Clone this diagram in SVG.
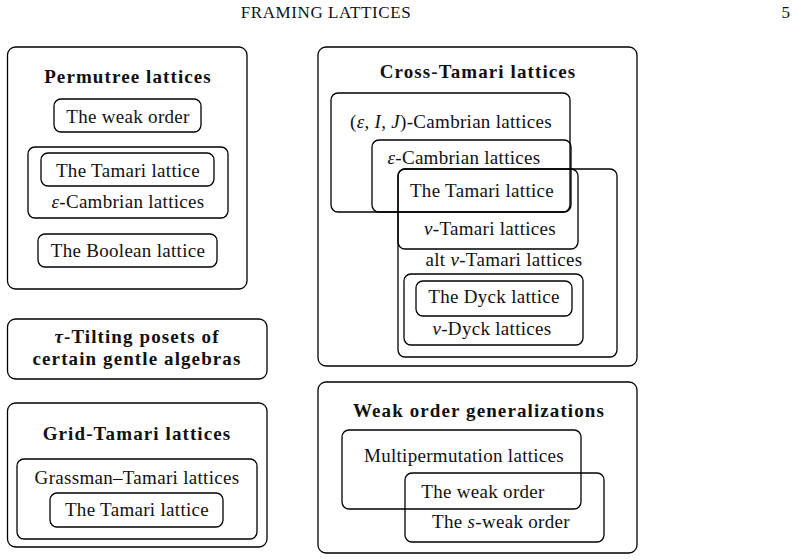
<svg xmlns="http://www.w3.org/2000/svg" width="799" height="560" viewBox="0 0 799 560">
<style>
  .box { fill: none; stroke: #000; stroke-width: 1.3; }
  text { font-family: "Liberation Serif", "Times New Roman", serif; font-size: 19px; fill: #111; text-anchor: middle; letter-spacing: 0.3px; }
  .b { font-weight: bold; letter-spacing: 1.1px; }
  .hd { font-size: 17px; letter-spacing: 0.6px; }
  .m { font-style: italic; }
</style>
<rect width="799" height="560" fill="#fff"/>
<g id="header">
  <text class="hd" x="326" y="18">FRAMING LATTICES</text>
  <text class="hd" x="786" y="18">5</text>
</g>

<g id="permutree">
  <rect class="box" x="7.5" y="47" width="239.5" height="242" rx="8"/>
  <text class="b" x="128" y="83">Permutree lattices</text>
</g>
<g id="perm-weak-order">
  <rect class="box" x="54" y="99" width="147" height="33" rx="7"/>
  <text x="128" y="123">The weak order</text>
</g>
<g id="perm-eps-cambrian">
  <rect class="box" x="28" y="147" width="200" height="71" rx="7"/>
  <text x="128" y="208"><tspan class="m">ε</tspan>-Cambrian lattices</text>
</g>
<g id="perm-tamari">
  <rect class="box" x="41" y="153" width="173" height="33" rx="7"/>
  <text x="128" y="177">The Tamari lattice</text>
</g>
<g id="perm-boolean">
  <rect class="box" x="38" y="234" width="179" height="33" rx="7"/>
  <text x="128" y="257">The Boolean lattice</text>
</g>

<g id="tau-tilting">
  <rect class="box" x="7.5" y="319" width="259.5" height="60" rx="8"/>
  <text class="b" x="137" y="343"><tspan class="m">τ</tspan>-Tilting posets of</text>
  <text class="b" x="137" y="365">certain gentle algebras</text>
</g>

<g id="grid-tamari">
  <rect class="box" x="7.5" y="403" width="259.5" height="144" rx="8"/>
  <text class="b" x="137" y="440">Grid-Tamari lattices</text>
</g>
<g id="grassman-tamari">
  <rect class="box" x="17" y="459" width="240" height="80" rx="7"/>
  <text x="137" y="484">Grassman–Tamari lattices</text>
</g>
<g id="grid-tamari-lattice">
  <rect class="box" x="50" y="493" width="173" height="34" rx="7"/>
  <text x="137" y="516">The Tamari lattice</text>
</g>

<g id="cross-tamari">
  <rect class="box" x="318" y="47" width="319" height="319" rx="8"/>
  <text class="b" x="478" y="78">Cross-Tamari lattices</text>
</g>
<g id="eij-cambrian">
  <rect class="box" x="331" y="93" width="239" height="119" rx="7"/>
  <text x="451" y="128">(<tspan class="m">ε</tspan>, <tspan class="m">I</tspan>, <tspan class="m">J</tspan>)-Cambrian lattices</text>
</g>
<g id="eps-cambrian">
  <rect class="box" x="372" y="140" width="199" height="72" rx="7"/>
  <text x="464" y="164"><tspan class="m">ε</tspan>-Cambrian lattices</text>
</g>
<g id="nu-tamari">
  <rect class="box" x="398" y="169" width="180" height="80" rx="7"/>
  <text x="482" y="197">The Tamari lattice</text>
  <text x="490" y="235"><tspan class="m">ν</tspan>-Tamari lattices</text>
</g>
<g id="alt-nu-tamari">
  <rect class="box" x="398" y="169" width="219" height="188" rx="7"/>
  <text x="504" y="266">alt <tspan class="m">ν</tspan>-Tamari lattices</text>
</g>
<g id="nu-dyck">
  <rect class="box" x="404" y="274" width="179" height="71" rx="7"/>
  <text x="492" y="335"><tspan class="m">ν</tspan>-Dyck lattices</text>
</g>
<g id="dyck">
  <rect class="box" x="416" y="281" width="156" height="35" rx="7"/>
  <text x="494" y="303">The Dyck lattice</text>
</g>

<g id="weak-order-generalizations">
  <rect class="box" x="318" y="382" width="319" height="171" rx="8"/>
  <text class="b" x="479" y="417">Weak order generalizations</text>
</g>
<g id="multipermutation">
  <rect class="box" x="342" y="430" width="239" height="79" rx="7"/>
  <text x="464" y="462">Multipermutation lattices</text>
</g>
<g id="s-weak-order">
  <rect class="box" x="405" y="473" width="199" height="69" rx="7"/>
  <text x="483" y="498">The weak order</text>
  <text x="501" y="528">The <tspan class="m">s</tspan>-weak order</text>
</g>
<g id="connectors"/>
</svg>
